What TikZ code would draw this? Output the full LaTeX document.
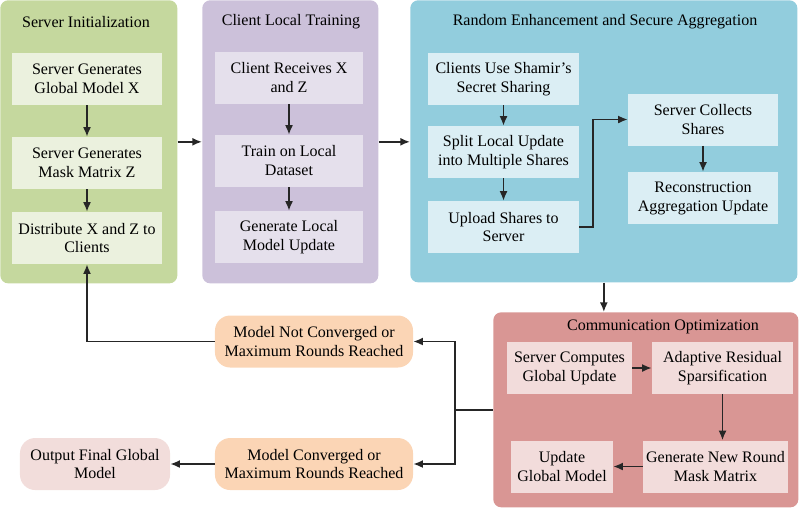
\documentclass[tikz,border=0pt]{standalone}
\usepackage{fontspec}
\setmainfont{Liberation Serif}
\usetikzlibrary{arrows.meta}
\definecolor{panelgreen}{RGB}{197,216,158}
\definecolor{boxgreen}{RGB}{235,241,222}
\definecolor{panelpurple}{RGB}{204,193,218}
\definecolor{boxpurple}{RGB}{229,224,236}
\definecolor{panelblue}{RGB}{146,205,221}
\definecolor{boxblue}{RGB}{219,238,244}
\definecolor{panelred}{RGB}{217,150,148}
\definecolor{boxred}{RGB}{242,220,219}
\definecolor{peach}{RGB}{251,213,181}
\definecolor{blush}{RGB}{242,221,219}
\tikzset{
    panel/.style={rounded corners=0.2cm, anchor=north west, inner sep=0pt},
    stepbox/.style={align=center, minimum height=1.3cm, inner sep=1pt},
    endbox/.style={stepbox, rounded corners=0.38cm},
    link/.style={line width=1.2pt, black!85},
    flow/.style={link, -{Latex[length=2.4mm, width=2mm]}}
}

\begin{document}
\begin{tikzpicture}[x=0.025cm, y=-0.025cm,
        every node/.style={font=\fontsize{11.4}{13.5}\selectfont}]
        
        \useasboundingbox (0,0) rectangle (800,509);
        
        % panels
        \node[panel, fill=panelgreen, minimum width=4.425cm, minimum height=7.075cm] (green) at (0,0) {};
        \node[panel, fill=panelpurple, minimum width=4.4cm, minimum height=7.075cm] (purple) at (202,0) {};
        \node[panel, fill=panelblue, minimum width=9.675cm, minimum height=7.05cm] (blue) at (410,0) {};
        \node[panel, fill=panelred, minimum width=7.625cm, minimum height=4.875cm] (red) at (493,312) {};
        
        \node (tgreen) at (86,22) {Server Initialization};
        \node (tpurple) at (291,22) {Client Local Training};
        \node (tblue) at (605,22) {Random Enhancement and Secure Aggregation};
        \node (tred) at (663,327) {Communication Optimization};
        
        % server initialization
        \node[stepbox, fill=boxgreen, minimum width=3.75cm] (g1) at (87,79) {Server Generates\\Global Model X};
        \node[stepbox, fill=boxgreen, minimum width=3.75cm] (g2) at (87,163) {Server Generates\\Mask Matrix Z};
        \node[stepbox, fill=boxgreen, minimum width=3.75cm] (g3) at (87,238) {Distribute X and Z to\\Clients};
        
        % client local training
        \node[stepbox, fill=boxpurple, minimum width=3.7cm] (p1) at (289,78) {Client Receives X\\and Z};
        \node[stepbox, fill=boxpurple, minimum width=3.7cm] (p2) at (289,161) {Train on Local\\Dataset};
        \node[stepbox, fill=boxpurple, minimum width=3.7cm] (p3) at (289,237) {Generate Local\\Model Update};
        
        % secure aggregation
        \node[stepbox, fill=boxblue, minimum width=3.775cm] (b1) at (503.5,79) {Clients Use Shamir's\\Secret Sharing};
        \node[stepbox, fill=boxblue, minimum width=3.775cm] (b2) at (503.5,152) {Split Local Update\\into Multiple Shares};
        \node[stepbox, fill=boxblue, minimum width=3.775cm] (b3) at (503.5,227) {Upload Shares to\\Server};
        \node[stepbox, fill=boxblue, minimum width=3.75cm] (b4) at (703,119.5) {Server Collects\\Shares};
        \node[stepbox, fill=boxblue, minimum width=3.75cm] (b5) at (703,198) {Reconstruction\\Aggregation Update};
        
        % communication optimization
        \node[stepbox, fill=boxred, minimum width=3.125cm] (r1) at (569.5,368) {Server Computes\\Global Update};
        \node[stepbox, fill=boxred, minimum width=3.525cm] (r2) at (722.5,368) {Adaptive Residual\\Sparsification};
        \node[stepbox, fill=boxred, minimum width=3.625cm] (r3) at (715.5,466.5) {Generate New Round\\Mask Matrix};
        \node[stepbox, fill=boxred, minimum width=2.55cm] (r4) at (562,466.5) {Update\\Global Model};
        
        % outcomes
        \node[endbox, fill=peach, minimum width=4.95cm] (notconv) at (314,341.5) {Model Not Converged or\\Maximum Rounds Reached};
        \node[endbox, fill=peach, minimum width=4.95cm] (conv) at (314,464) {Model Converged or\\Maximum Rounds Reached};
        \node[endbox, fill=blush, minimum width=3.75cm] (final) at (95,464) {Output Final Global\\Model};
        
        \draw[flow] (g1) -- (g2);
        \draw[flow] (g2) -- (g3);
        \draw[flow] (p1) -- (p2);
        \draw[flow] (p2) -- (p3);
        \draw[flow] (b1) -- (b2);
        \draw[flow] (b2) -- (b3);
        \draw[flow] (b4) -- (b5);
        \draw[flow] (b3.east) -- ++(14,0) |- (b4.west);
        \draw[flow] (r1) -- (r2);
        \draw[flow] (r2.south) -- (r2.south |- r3.north);
        \draw[flow] (r3) -- (r4);
        
        \draw[flow] (green.east) -- (purple.west);
        \draw[flow] (purple.east) -- (purple.east -| blue.west);
        \draw[flow] (blue.south) -- (blue.south |- red.north);
        
        \draw[link] (red.west) -- ++(-38,0) coordinate (split);
        \draw[flow] (split) |- (notconv.east);
        \draw[flow] (split) |- (conv.east);
        \draw[flow] (notconv.west) -| (g3.south);
        \draw[flow] (conv) -- (final);
        
    \end{tikzpicture}
\end{document}
